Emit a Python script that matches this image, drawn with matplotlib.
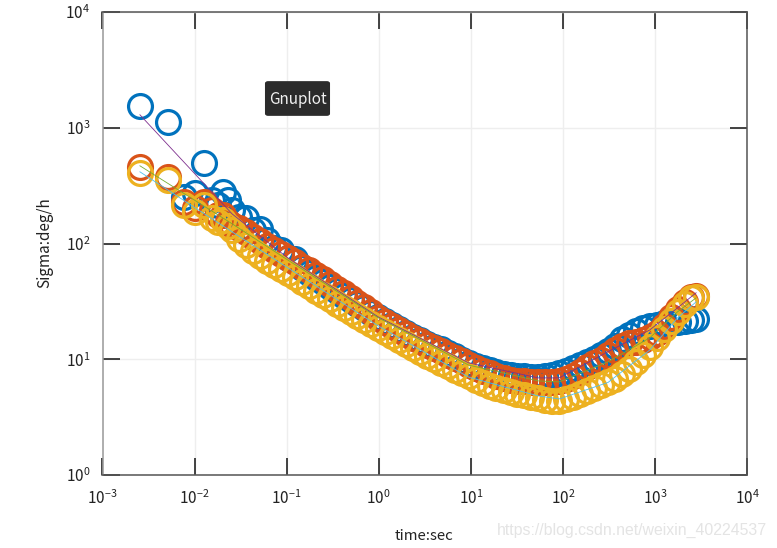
import matplotlib
matplotlib.use("Agg")
import matplotlib.pyplot as plt
from matplotlib.patches import FancyBboxPatch

plt.rcParams['font.family'] = ['Noto Sans CJK SC', 'DejaVu Sans']
plt.rcParams['mathtext.default'] = 'regular'

# 数据：Allan 方差
tau = [0.00255, 0.00512, 0.0077, 0.0102, 0.0128, 0.0154, 0.0179, 0.0205, 0.0230, 0.0256,
       0.0305, 0.0363, 0.0432, 0.0514, 0.0612, 0.0728, 0.0866, 0.103, 0.123, 0.146,
       0.174, 0.207, 0.246, 0.293, 0.349, 0.415, 0.494, 0.588, 0.699, 0.832,
       0.990, 1.18, 1.40, 1.67, 1.99, 2.36, 2.81, 3.35, 3.98, 4.74,
       5.64, 6.71, 7.98, 9.50, 11.3, 13.5, 16.0, 19.0, 22.7, 27.0,
       32.1, 38.2, 45.5, 54.1, 64.4, 76.6, 91.2, 109, 129, 154,
       183, 218, 260, 309, 368, 438, 521, 620, 738, 878,
       1045, 1243, 1480, 1761, 2096, 2494, 2800]

sigma_x = [1550, 1130, 253, 273, 497, 238, 215, 280, 238, 195,
           170, 166, 131, 134, 107.5, 91.7, 88, 75, 73.7, 61.6,
           55.8, 50.5, 46.6, 42.2, 39, 35.4, 32.6, 30.1, 27.8, 25.2,
           23.2, 21.5, 19.8, 18.3, 16.9, 15.6, 14.7, 13.5, 12.8, 12.3,
           11.3, 10.7, 9.86, 9.3, 8.75, 8.4, 8.08, 7.76, 7.46, 7.31,
           7.17, 7.1, 7.03, 7.03, 7.17, 7.31, 7.56, 7.92, 8.41, 8.93,
           9.48, 10.06, 10.9, 11.8, 13.0, 15, 16.2, 17.6, 18.6, 19.4,
           19.8, 20.6, 21, 21, 21.5, 21.9, 22.3]

sigma_y = [460, 377, 229, 203, 229, 195, 177, 177, 154, 145,
           137, 126, 114, 106, 95, 88, 81.4, 75.2, 69.4, 62.8,
           59.2, 53.6, 49.5, 44.8, 40.6, 37.5, 33.9, 30.7, 28.3, 25.7,
           22.8, 21.0, 19.4, 17.9, 16.5, 15.3, 14.4, 13.3, 12.5, 11.8,
           10.9, 10.3, 9.6, 8.9, 8.4, 7.9, 7.56, 7.17, 6.9, 6.62,
           6.5, 6.43, 6.37, 6.3, 6.3, 6.37, 6.5, 6.75, 7.17, 7.76,
           8.6, 9.3, 9.86, 10.9, 12.03, 13.0, 13.8, 14.1, 14.7, 15.6,
           16.9, 19.4, 23.2, 27.2, 31.3, 34.6, 35.4]

sigma_z = [408, 355, 215, 187, 215, 166, 154, 160, 141, 131,
           110, 97, 86.4, 78.1, 70.8, 65.4, 60.4, 55.8, 51.5, 46.6,
           43, 39, 36, 33.3, 30.1, 27.8, 25.7, 23.7, 21.9, 20.2,
           18.6, 17.2, 15.9, 14.7, 13.5, 12.5, 11.6, 10.7, 10.06, 9.3,
           8.75, 8.08, 7.6, 7.1, 6.62, 6.24, 5.88, 5.6, 5.38, 5.22,
           5.02, 4.87, 4.73, 4.6, 4.45, 4.4, 4.4, 4.54, 4.73, 4.96,
           5.27, 5.6, 5.94, 6.3, 6.75, 7.46, 8.24, 9.48, 10.9, 12.8,
           15.3, 18.3, 21.5, 25.7, 30.1, 33.9, 34.6]

# 拟合曲线
fit_tau = [0.00255, 0.0256, 0.103, 0.99, 9.5, 54.1, 91.2, 309, 878, 1761, 2800]
fit_x = [1294, 180, 75, 23.2, 9.3, 6.9, 6.9, 11.6, 17.9, 27.8, 37.5]
fit_y = [469, 148, 72, 22.8, 8.9, 6.5, 6.37, 9.5, 15.3, 25.7, 33.9]
fit_z = [416, 126, 61.6, 19.4, 7.0, 4.82, 4.54, 6.3, 12, 22.8, 31.3]

x_ticks = [1e-3, 1e-2, 1e-1, 1e0, 1e1, 1e2, 1e3, 1e4]
x_labels = ['$10^{-3}$', '$10^{-2}$', '$10^{-1}$', '$10^{0}$', '$10^{1}$', '$10^{2}$', '$10^{3}$', '$10^{4}$']
y_ticks = [1e0, 1e1, 1e2, 1e3, 1e4]
y_labels = ['$10^{0}$', '$10^{1}$', '$10^{2}$', '$10^{3}$', '$10^{4}$']

fig = plt.figure(figsize=(7.77, 5.48), dpi=100)
ax = fig.add_axes([102.5 / 777, 1 - 475 / 548, (747 - 102.5) / 777, (475 - 12) / 548])

for s, c in zip([sigma_x, sigma_y, sigma_z], ['#0072BD', '#D95319', '#EDB120']):
    ax.plot(tau, s, 'o', ms=17.2, mfc='none', mec=c, mew=2.3, clip_on=False, zorder=3)
for s, c in zip([fit_x, fit_y, fit_z], ['#7E2F8E', '#77AC30', '#4DBEEE']):
    ax.plot(fit_tau, s, '-', color=c, lw=0.6, zorder=4)

ax.set_xscale('log')
ax.set_yscale('log')
ax.set_xlim(1e-3, 1e4)
ax.set_ylim(1e0, 1e4)
ax.set_xticks(x_ticks, x_labels)
ax.set_yticks(y_ticks, y_labels)
ax.minorticks_off()
ax.grid(True, color='#eeeeee', lw=1)
ax.set_axisbelow(True)
ax.tick_params(direction='in', length=12, width=1.1, top=True, right=True, color='#111111',
               labelsize=11, labelcolor='#222222', pad=9)
ax.tick_params(axis='x', pad=10.5)
for side in ax.spines.values():
    side.set_color('#555555')
    side.set_linewidth(1.1)
ax.spines['left'].set_color('#999999')

fig.text(424 / 777, 1 - 536 / 548, 'time:sec', ha='center', va='center', fontsize=10.8, color='#222222')
fig.text(45 / 777, 1 - 243 / 548, 'Sigma:deg/h', ha='center', va='center', rotation=90, fontsize=11, color='#222222')

# 提示框和水印
box = FancyBboxPatch((268 / 777, 1 - 113.5 / 548), 59 / 777, 30 / 548, transform=fig.transFigure,
                     boxstyle='round,pad=0.003', fc='#2b2b2b', ec='#2b2b2b', zorder=6)
fig.add_artist(box)
fig.text(297.5 / 777, 1 - 99 / 548, 'Gnuplot', ha='center', va='center', fontsize=11, color='#f0f0f0', zorder=7)
fig.text(632 / 777, 1 - 530 / 548, 'https://blog.csdn.net/weixin_40224537', ha='center', va='center',
         fontsize=11.4, family=['Liberation Sans', 'DejaVu Sans'], color='#e4e4e4', zorder=7)

fig.savefig('out.png', dpi=100)
